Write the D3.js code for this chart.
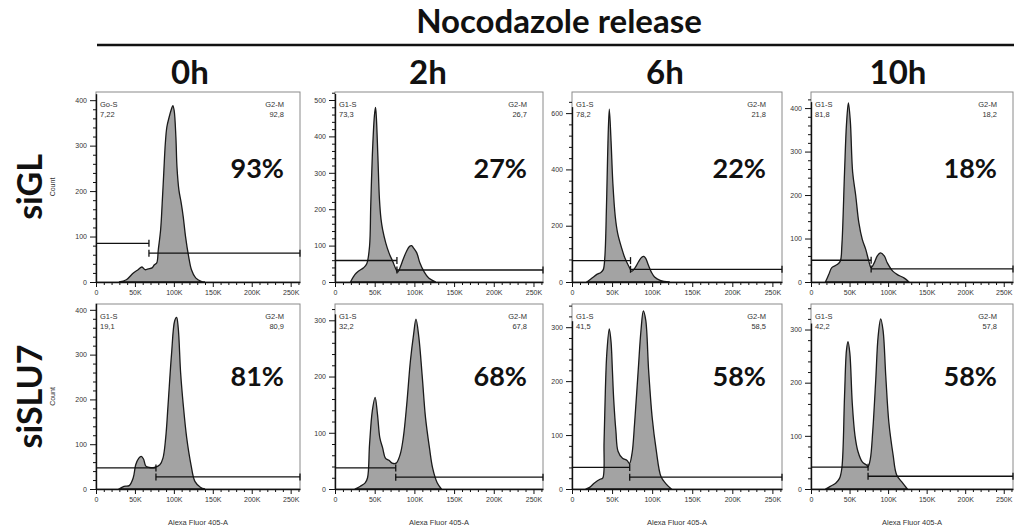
<!DOCTYPE html>
<html lang="en">
<head>
    <meta charset="UTF-8">
    <title>Nocodazole release</title>
    <style>
        html, body {
            margin: 0;
            padding: 0;
            background-color: #fff;
        }
        svg { display: block; }
        .big {
            font-family: Lato, 'Open Sans', sans-serif;
            font-weight: 700;
            fill: #111;
        }
        .small {
            font-family: 'Liberation Sans', Arial, sans-serif;
            fill: #333;
        }
    </style>
</head>
<body>
    <div id="graph"></div>
    <script src="https://d3js.org/d3.v7.min.js"></script>
    <script>
        // DATA (x in thousands of Alexa Fluor 405-A units, y in counts)
        const timepoints = ["0h", "2h", "6h", "10h"];
        const conditions = ["siGL", "siSLU7"];
        const percentLabels = [["93%", "27%", "22%", "18%"], ["81%", "68%", "58%", "58%"]];
        const leftGateNames = [["Go-S", "G1-S", "G1-S", "G1-S"], ["G1-S", "G1-S", "G1-S", "G1-S"]];
        const leftGateValues = [["7,22", "73,3", "78,2", "81,8"], ["19,1", "32,2", "41,5", "42,2"]];
        const rightGateValues = [["92,8", "26,7", "21,8", "18,2"], ["80,9", "67,8", "58,5", "57,8"]];
        const xTicks = [0, 50, 100, 150, 200, 250];
        const xMax = 262;
        const yMax = [[418, 522, 675, 437], [413, 329, 343, 348]];
        const yTicks = [
            [[0, 100, 200, 300, 400], [0, 100, 200, 300, 400, 500], [0, 200, 400, 600], [0, 100, 200, 300, 400]],
            [[0, 100, 200, 300, 400], [0, 100, 200, 300], [0, 100, 200, 300], [0, 100, 200, 300]]
        ];
        // gate split position (K) and the two bar levels (counts)
        const gateSplit = [[68, 78, 73, 78], [77, 76.5, 72, 74]];
        const gateLevels = [
            [[85, 63.5], [59, 33], [76, 45], [50, 30]],
            [[47, 27], [37.5, 21], [40, 22], [41, 24]]
        ];

        const hist_siGL_0h = [[29.5,0],[39,5],[48,20],[54,27],[59,33],[63,27],[67,29],[72,31],[75,38],[78,42],[80,71],[83,115],[85,173],[87,239],[89,304],[91,341],[94,363],[97,381],[98.7,388],[100.4,377],[102.6,319],[104,253],[106.5,202],[109.5,173],[112,144],[115,100],[119,56],[122.6,27],[128,9],[135,1.5],[140,0]];
        const hist_siGL_2h = [[19.5,0],[25,20],[29,29],[36,39],[40,50],[43.5,98],[45,208],[47,346],[49.6,456],[51,480],[52,456],[54,346],[56,227],[58,172],[60,144],[64,107],[68,80],[72.6,57],[77,34],[79,27],[82.6,43],[85.6,61],[90,84],[94,98],[96.5,100],[98.7,94],[103,80],[107,52],[112,29],[118,11],[127,0]];
        const hist_siGL_6h = [[18.5,0],[25,14],[31.5,28],[36,34],[39,44],[41,90],[43,267],[44.4,443],[46.5,614],[48.7,502],[51,350],[54,232],[57,173],[62,120],[66,85],[71,55],[74.5,38],[79,52],[83,72],[87,88],[89.6,91],[92,84],[95,62],[99,35],[103,18],[110,6],[122,0]];
        const hist_siGL_10h = [[18.7,0],[23,17],[27,33],[34,40],[38,48],[40,83],[43.5,253],[46,362],[48.5,412],[51,370],[54,253],[58,199],[62,137],[66.5,98],[71,75],[75,48],[78,33],[82,44],[86,60],[90,67],[95,60],[99,44],[106,25],[112,17],[121,9],[127,0]];
        const hist_siSLU7_0h = [[29.5,0],[36,6],[42.6,7.5],[47.8,25],[51,54],[55,69],[58,73],[61,67],[64,51],[68.7,48],[75,48],[82,54],[86,69],[89.5,114],[92.6,189],[97,301],[101,375],[103.5,383],[105.6,360],[108.7,259],[112,189],[116.5,114],[122,54],[127,17],[134,4],[140,0]];
        const hist_siSLU7_2h = [[25,0],[32,5],[38,11],[41,20],[43.5,79],[47,139],[50.5,163],[53.5,133],[56.5,91],[60,73],[63.5,55],[68,51],[72,46],[77,46],[82,61],[86,91],[90.4,151],[95,228],[99,275],[102,302],[105.6,270],[110,198],[114,127],[119,73],[123,37],[128.7,11],[134,0]];
        const hist_siSLU7_6h = [[17,0],[22,3],[28,11],[35,18],[38.3,20],[40,87],[41.7,187],[43.5,253],[46.5,297],[48.7,273],[50.4,220],[52,167],[54.8,107],[57.4,70],[63,57],[68.7,53],[71.7,47],[75,67],[78,120],[82.6,220],[86,293],[89,330],[92,313],[95.6,220],[100,133],[105,73],[111,23],[117,10],[124,0]];
        const hist_siSLU7_10h = [[18.7,0],[25,5],[32,11],[37,20],[40,39],[43.5,175],[46,261],[48,277],[50.4,255],[53.5,162],[57,101],[61,70],[66.5,51],[72,45],[74,42],[77,57],[80,107],[84,206],[87,286],[90.4,320],[93.5,298],[97,212],[101,125],[106.5,64],[111,27],[119,11],[125,0]];
        const histograms = [
            [hist_siGL_0h, hist_siGL_2h, hist_siGL_6h, hist_siGL_10h],
            [hist_siSLU7_0h, hist_siSLU7_2h, hist_siSLU7_6h, hist_siSLU7_10h]
        ];

        // LAYOUT
        const width = 1014, height = 530;
        const colLeft = [96, 335, 572, 811];
        const colRight = [300, 543, 782, 1013];
        const rowTop = [92, 304];
        const rowBottom = [282, 489];

        const svg = d3.select("#graph")
            .append("svg")
            .attr("width", width)
            .attr("height", height);

        // HEADER
        svg.append("text")
            .attr("class", "big")
            .attr("x", 559)
            .attr("y", 33)
            .attr("text-anchor", "middle")
            .style("font-size", "33px")
            .text("Nocodazole release");

        svg.append("line")
            .attr("x1", 97).attr("x2", 1014)
            .attr("y1", 45).attr("y2", 45)
            .attr("stroke", "#111")
            .attr("stroke-width", 2.5);

        const headerX = [190, 428, 665, 898];
        svg.selectAll(".tp")
            .data(timepoints).enter()
            .append("text")
            .attr("class", "big tp")
            .attr("x", (d, i) => headerX[i])
            .attr("y", 84)
            .attr("text-anchor", "middle")
            .style("font-size", "33px")
            .text(d => d);

        // ROW LABELS
        conditions.forEach((cond, r) => {
            const cy = (rowTop[r] + rowBottom[r]) / 2;
            svg.append("text")
                .attr("class", "big")
                .attr("transform", `translate(42, ${cy}) rotate(-90)`)
                .attr("text-anchor", "middle")
                .style("font-size", "34px")
                .text(cond);
            svg.append("text")
                .attr("class", "small")
                .attr("transform", `translate(55, ${cy}) rotate(-90)`)
                .attr("text-anchor", "middle")
                .style("font-size", "7px")
                .text("Count");
        });

        // PANELS
        conditions.forEach((cond, r) => {
            timepoints.forEach((tp, c) => {
                const g = svg.append("g");
                const x = d3.scaleLinear().domain([0, xMax]).range([colLeft[c], colRight[c]]);
                const y = d3.scaleLinear().domain([0, yMax[r][c]]).range([rowBottom[r], rowTop[r]]);

                // frame
                g.append("rect")
                    .attr("x", colLeft[c]).attr("y", rowTop[r])
                    .attr("width", colRight[c] - colLeft[c])
                    .attr("height", rowBottom[r] - rowTop[r])
                    .attr("fill", "#fff")
                    .attr("stroke", "#8a8a8a")
                    .attr("stroke-width", 1);

                // histogram
                const area = d3.area()
                    .x(d => x(d[0]))
                    .y0(y(0))
                    .y1(d => y(d[1]))
                    .curve(d3.curveCatmullRom.alpha(0.5));
                g.append("path")
                    .datum(histograms[r][c])
                    .attr("d", area)
                    .attr("fill", "#a3a3a3")
                    .attr("stroke", "#1a1a1a")
                    .attr("stroke-width", 1.3);

                // gates
                const split = gateSplit[r][c];
                const [lvlL, lvlR] = gateLevels[r][c];
                const gates = [
                    {x0: 0, x1: split, lvl: lvlL, caps: [split]},
                    {x0: split, x1: xMax, lvl: lvlR, caps: [split, xMax]}
                ];
                gates.forEach(gt => {
                    g.append("line")
                        .attr("x1", x(gt.x0)).attr("x2", x(gt.x1))
                        .attr("y1", y(gt.lvl)).attr("y2", y(gt.lvl))
                        .attr("stroke", "#111").attr("stroke-width", 1.3);
                    gt.caps.forEach(cx => {
                        g.append("line")
                            .attr("x1", x(cx)).attr("x2", x(cx))
                            .attr("y1", y(gt.lvl) - 3.5).attr("y2", y(gt.lvl) + 3.5)
                            .attr("stroke", "#111").attr("stroke-width", 1.3);
                    });
                });

                // gate labels
                const lab = [
                    {t: leftGateNames[r][c], x: colLeft[c] + 4, dy: 15, a: "start"},
                    {t: leftGateValues[r][c], x: colLeft[c] + 4, dy: 25, a: "start"},
                    {t: "G2-M", x: colRight[c] - 16, dy: 15, a: "end"},
                    {t: rightGateValues[r][c], x: colRight[c] - 16, dy: 25, a: "end"}
                ];
                g.selectAll(".gl")
                    .data(lab).enter()
                    .append("text")
                    .attr("class", "small gl")
                    .attr("x", d => d.x)
                    .attr("y", d => rowTop[r] + d.dy)
                    .attr("text-anchor", d => d.a)
                    .style("font-size", "7.5px")
                    .text(d => d.t);

                // big percentage
                g.append("text")
                    .attr("class", "big")
                    .attr("x", colRight[c] - 16)
                    .attr("y", r === 0 ? 178 : 386)
                    .attr("text-anchor", "end")
                    .style("font-size", "27px")
                    .text(percentLabels[r][c]);

                // y axis
                const ticks = yTicks[r][c];
                const step = ticks[1] - ticks[0];
                const minor = d3.range(0, yMax[r][c], step / 5).filter(v => v % step !== 0);
                g.append("g")
                    .attr("transform", `translate(${colLeft[c]}, 0)`)
                    .call(d3.axisLeft(y).tickValues(minor).tickSize(3).tickFormat("").tickSizeOuter(0))
                    .call(a => a.select(".domain").remove());
                const ya = g.append("g")
                    .attr("transform", `translate(${colLeft[c]}, 0)`)
                    .call(d3.axisLeft(y).tickValues(ticks).tickSize(6).tickPadding(3).tickSizeOuter(0));
                ya.select(".domain").attr("stroke", "#111").attr("stroke-width", 1.4)
                    .attr("d", `M0.5,${y(ticks[ticks.length - 1]) - 6}V${rowBottom[r]}`);

                // x axis
                const xa = g.append("g")
                    .attr("transform", `translate(0, ${rowBottom[r]})`)
                    .call(d3.axisBottom(x).tickValues(xTicks).tickSize(5).tickPadding(3).tickSizeOuter(0)
                        .tickFormat(d => d === 0 ? "0" : d + "K"));
                xa.select(".domain").attr("stroke", "#111").attr("stroke-width", 1.4);
                g.append("g")
                    .attr("transform", `translate(0, ${rowBottom[r]})`)
                    .call(d3.axisBottom(x).tickValues(d3.range(10, xMax, 10).filter(v => v % 50 !== 0))
                        .tickSize(3).tickFormat("").tickSizeOuter(0))
                    .call(a => a.select(".domain").remove());

                g.selectAll(".tick line").attr("stroke", "#111");
                g.selectAll(".tick text")
                    .attr("class", "small")
                    .attr("font-family", null)
                    .style("font-size", "7px")
                    .attr("fill", "#333");

                if (r === 1) {
                    g.append("text")
                        .attr("class", "small")
                        .attr("x", (colLeft[c] + colRight[c]) / 2)
                        .attr("y", 525)
                        .attr("text-anchor", "middle")
                        .style("font-size", "7.5px")
                        .text("Alexa Fluor 405-A");
                }
            });
        });
    </script>
</body>
</html>
